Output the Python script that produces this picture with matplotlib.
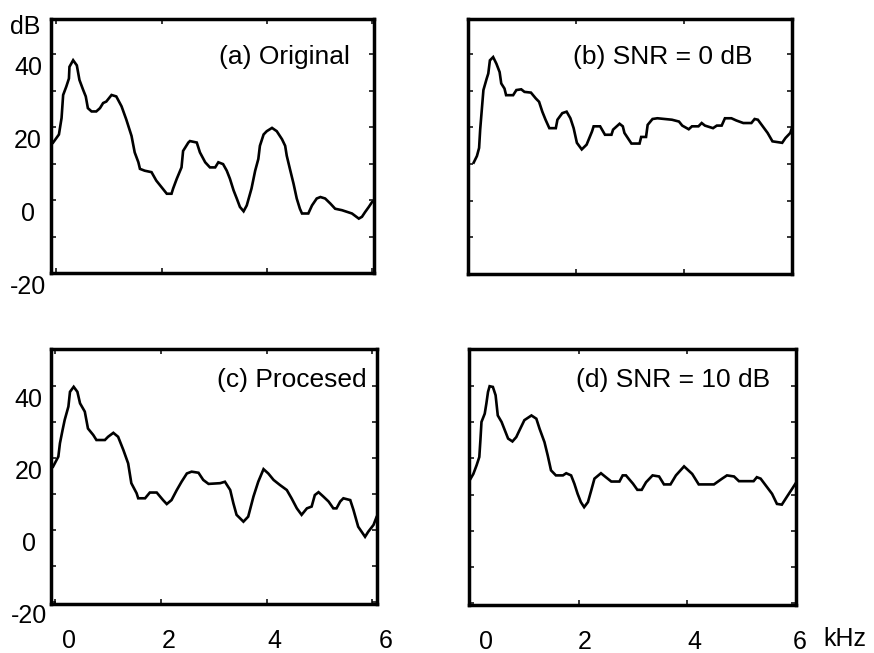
import numpy as np
import matplotlib.pyplot as plt
from matplotlib.transforms import ScaledTranslation

plt.rcParams['font.family'] = ['Liberation Sans', 'DejaVu Sans']

# spectra, frequency in kHz and level in dB
freq_a = [-0.06, 0.03, 0.05, 0.10, 0.13, 0.19, 0.24, 0.25, 0.32, 0.39,
          0.44, 0.51, 0.56, 0.60, 0.67, 0.76, 0.83, 0.89, 0.95, 1.05,
          1.14, 1.24, 1.33, 1.43, 1.49, 1.56, 1.59, 1.68, 1.81, 1.90,
          2.00, 2.10, 2.19, 2.22, 2.29, 2.38, 2.41, 2.51, 2.54, 2.67,
          2.73, 2.83, 2.92, 3.02, 3.08, 3.17, 3.24, 3.30, 3.37, 3.43,
          3.49, 3.56, 3.62, 3.71, 3.78, 3.84, 3.87, 3.94, 4.00, 4.10,
          4.19, 4.29, 4.35, 4.38, 4.44, 4.51, 4.57, 4.63, 4.67, 4.79,
          4.86, 4.95, 5.02, 5.11, 5.21, 5.30, 5.43, 5.62, 5.75, 5.81,
          5.87, 5.94, 6.00, 6.06]
level_a = [15.8, 17.6, 18.0, 22.5, 28.8, 31.1, 33.3, 36.5, 38.3, 36.9,
           32.9, 30.2, 28.4, 25.2, 24.3, 24.3, 25.2, 26.6, 27.0, 28.8,
           28.4, 25.7, 22.1, 17.6, 13.1, 10.4, 8.6, 8.1, 7.7, 5.4,
           3.6, 1.8, 1.8, 3.2, 5.9, 9.0, 13.5, 15.8, 16.2, 15.8,
           13.1, 10.4, 9.0, 9.0, 10.4, 9.9, 8.1, 5.9, 2.7, 0.5,
           -1.8, -3.0, -1.4, 3.2, 8.1, 11.3, 14.9, 18.0, 18.9, 19.8,
           18.9, 16.7, 14.9, 12.2, 8.6, 4.5, 0.5, -2.3, -3.6, -3.6,
           -1.4, 0.5, 0.9, 0.5, -0.9, -2.3, -2.7, -3.6, -5.0, -4.5,
           -3.2, -1.8, -0.5, 0.0]

freq_b = [0.10, 0.16, 0.20, 0.22, 0.25, 0.28, 0.34, 0.37, 0.40, 0.46,
          0.52, 0.58, 0.61, 0.67, 0.70, 0.83, 0.89, 0.98, 1.04, 1.16,
          1.25, 1.31, 1.37, 1.43, 1.50, 1.62, 1.65, 1.74, 1.82, 1.89,
          1.95, 2.01, 2.10, 2.19, 2.29, 2.32, 2.44, 2.53, 2.65, 2.68,
          2.80, 2.86, 2.89, 3.02, 3.17, 3.20, 3.29, 3.32, 3.41, 3.50,
          3.77, 3.90, 3.96, 4.08, 4.14, 4.26, 4.32, 4.38, 4.53, 4.60,
          4.69, 4.75, 4.87, 4.96, 5.09, 5.24, 5.30, 5.36, 5.45, 5.54,
          5.63, 5.81, 5.87, 5.96, 5.99]
level_b = [10.4, 12.2, 14.4, 19.4, 24.8, 30.2, 33.3, 34.7, 38.3, 39.2,
           37.4, 35.1, 32.0, 30.6, 28.8, 28.8, 30.2, 30.4, 29.7, 29.5,
           27.9, 27.0, 24.3, 22.1, 19.8, 19.8, 22.1, 23.9, 24.3, 22.5,
           19.8, 15.8, 14.0, 15.3, 18.9, 20.3, 20.3, 18.0, 18.0, 19.4,
           21.0, 20.3, 18.5, 15.6, 15.6, 17.4, 17.4, 20.7, 22.3, 22.5,
           22.1, 21.6, 20.5, 19.5, 20.3, 20.3, 21.2, 20.5, 19.8, 20.5,
           20.5, 22.5, 22.5, 21.9, 21.2, 21.2, 22.3, 22.1, 20.3, 18.5,
           16.2, 15.8, 17.1, 18.5, 19.8]

freq_c = [-0.04, 0.06, 0.09, 0.14, 0.18, 0.25, 0.28, 0.35, 0.42, 0.47,
          0.56, 0.62, 0.72, 0.78, 0.94, 1.00, 1.10, 1.19, 1.29, 1.38,
          1.44, 1.54, 1.57, 1.70, 1.79, 1.92, 2.04, 2.11, 2.20, 2.30,
          2.39, 2.49, 2.58, 2.71, 2.80, 2.90, 3.12, 3.21, 3.31, 3.37,
          3.43, 3.56, 3.65, 3.75, 3.84, 3.94, 4.03, 4.13, 4.25, 4.38,
          4.47, 4.57, 4.66, 4.76, 4.85, 4.91, 4.98, 5.07, 5.17, 5.26,
          5.32, 5.39, 5.45, 5.58, 5.64, 5.73, 5.86, 5.92, 6.02, 6.08,
          6.14]
level_c = [17.6, 20.4, 24.1, 27.8, 30.6, 34.3, 38.4, 39.8, 38.4, 35.2,
           32.9, 28.2, 26.4, 25.0, 25.0, 25.9, 27.0, 25.9, 22.2, 18.5,
           13.0, 10.2, 8.8, 8.8, 10.4, 10.4, 8.3, 7.2, 8.3, 11.1,
           13.4, 15.7, 16.2, 15.9, 13.9, 12.8, 13.0, 13.4, 11.1, 7.4,
           4.2, 2.3, 3.7, 9.3, 13.4, 16.9, 15.7, 13.9, 12.5, 11.1,
           8.8, 6.0, 4.2, 6.0, 6.5, 9.7, 10.5, 9.3, 7.9, 6.0,
           6.0, 7.9, 8.8, 8.3, 5.6, 0.9, -1.9, -0.5, 1.4, 3.7,
           5.1]

freq_d = [0.01, 0.06, 0.12, 0.17, 0.19, 0.21, 0.27, 0.30, 0.33, 0.36,
          0.42, 0.47, 0.51, 0.58, 0.64, 0.70, 0.78, 0.85, 0.91, 1.00,
          1.13, 1.22, 1.28, 1.37, 1.43, 1.49, 1.58, 1.71, 1.77, 1.86,
          1.92, 1.98, 2.04, 2.10, 2.17, 2.23, 2.29, 2.41, 2.50, 2.60,
          2.75, 2.81, 2.87, 3.00, 3.08, 3.16, 3.24, 3.36, 3.48, 3.57,
          3.69, 3.79, 3.94, 4.09, 4.21, 4.49, 4.64, 4.73, 4.86, 4.95,
          5.22, 5.28, 5.35, 5.47, 5.56, 5.65, 5.74, 5.83, 5.93, 5.99]
level_d = [14.4, 15.7, 18.1, 20.4, 25.0, 30.1, 32.4, 35.2, 38.4, 40.0,
           39.8, 37.5, 31.9, 30.1, 27.8, 25.5, 24.7, 25.9, 27.8, 30.6,
           31.9, 31.0, 28.2, 24.5, 20.8, 16.7, 15.3, 15.3, 15.9, 15.3,
           13.0, 10.2, 7.9, 6.5, 7.9, 11.1, 14.4, 15.9, 14.8, 13.6,
           13.6, 15.3, 15.3, 13.0, 11.3, 11.3, 13.4, 15.3, 15.0, 12.8,
           12.8, 15.3, 17.8, 15.7, 12.8, 12.8, 14.4, 15.3, 15.0, 13.7,
           13.7, 14.8, 14.4, 12.0, 10.2, 7.4, 7.2, 9.3, 11.6, 13.0]

titles = ['(a) Original', '(b) SNR = 0 dB', '(c) Procesed', '(d) SNR = 10 dB']
yticks = [-20, -10, 0, 10, 20, 30, 40]
ylabels = ['-20', '', '0', '', '20', '', '40']
xticks = [0, 2, 4, 6]
xlabels = ['0', '2', '4', '6']

FS = 19
TICK_FS = 18

fig = plt.figure(figsize=(8.74, 6.53), dpi=100)

# axes rectangles and view limits for each panel
rects = [[0.0584, 0.5812, 0.3690, 0.3893],
         [0.5358, 0.5804, 0.3709, 0.3900],
         [0.0589, 0.0750, 0.3721, 0.3905],
         [0.5366, 0.0735, 0.3741, 0.3920]]
xlims = [(-0.10, 6.03), (0.04, 5.95), (-0.07, 6.08), (-0.02, 6.0)]
ylims = [(-20, 49.5), (-20, 49.5), (-20.6, 50.3), (-20.6, 50.3)]
title_pos = [(0.927, 0.852), (0.878, 0.852), (0.970, 0.878), (0.920, 0.878)]
# horizontal nudge of x tick labels, pixels
xshift = [[14, 8, 8, 13], [16, 6, 7, 4]]

data = [(freq_a, level_a), (freq_b, level_b), (freq_c, level_c), (freq_d, level_d)]

for i, (f, lv) in enumerate(data):
    ax = fig.add_axes(rects[i])
    ax.plot(f, lv, color='black', lw=1.9, solid_joinstyle='miter')
    ax.set_xlim(*xlims[i])
    ax.set_ylim(*ylims[i])
    for s in ax.spines.values():
        s.set_linewidth(2.5)
    ax.tick_params(direction='in', length=3.5, width=1.1, top=True, right=True,
                   labelsize=TICK_FS)
    ax.set_yticks(yticks)
    ax.set_xticks(xticks)

    left = i % 2 == 0
    bottom = i >= 2
    if left:
        ax.set_yticklabels(ylabels)
        ax.tick_params(axis='y', pad=16.5)
        for lab in ax.get_yticklabels():
            lab.set_horizontalalignment('center')
            lab.set_transform(lab.get_transform() +
                              ScaledTranslation(0, -0.115, fig.dpi_scale_trans))
    else:
        ax.set_yticklabels([])
    if bottom:
        ax.set_xticklabels(xlabels)
        ax.tick_params(axis='x', pad=18)
        for lab, dx in zip(ax.get_xticklabels(), xshift[i - 2]):
            lab.set_transform(lab.get_transform() +
                              ScaledTranslation(dx / 100, 0, fig.dpi_scale_trans))
    else:
        ax.set_xticklabels([])

    ax.text(title_pos[i][0], title_pos[i][1], titles[i], transform=ax.transAxes,
            ha='right', va='center', fontsize=FS)

fig.text(25.5 / 874, 1 - 27 / 653, 'dB', ha='center', va='center', fontsize=TICK_FS)
fig.text(845 / 874, 1 - 639 / 653, 'kHz', ha='center', va='center', fontsize=TICK_FS)

fig.savefig('out.png', dpi=100)
